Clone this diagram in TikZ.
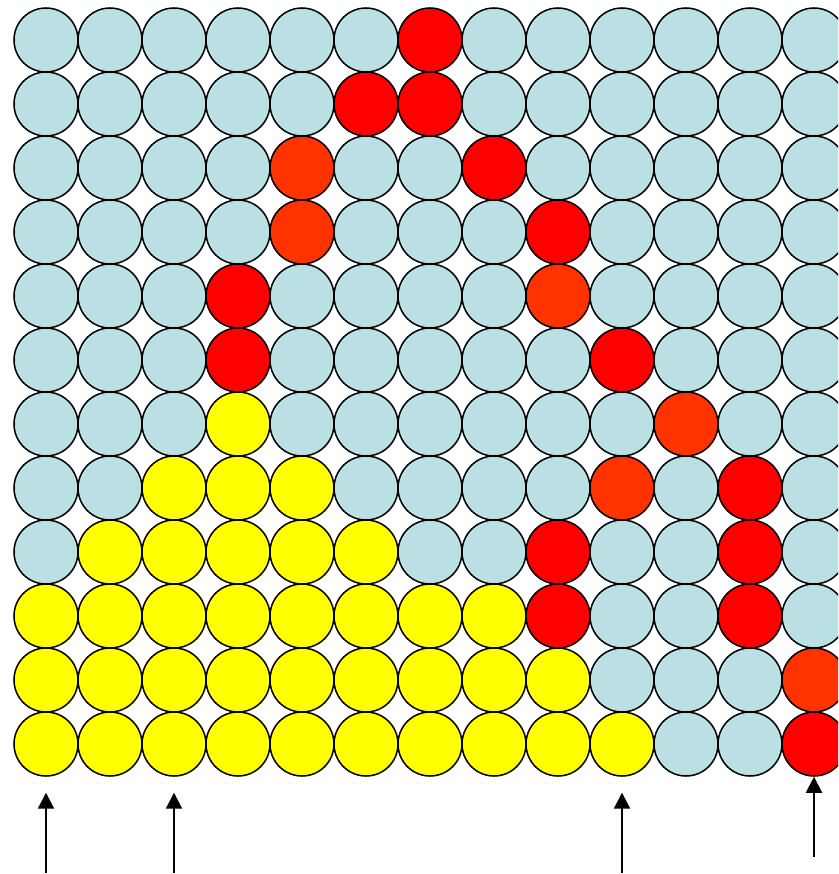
\documentclass[tikz,border=0pt]{standalone}
\usetikzlibrary{arrows.meta}
\definecolor{lb}{HTML}{BBE0E3}
\definecolor{rd}{HTML}{FF0000}
\definecolor{og}{HTML}{FF3300}
\definecolor{yl}{HTML}{FFFF00}
\tikzset{
  dot/.style={circle, draw=black, line width=1.3pt, inner sep=0pt, minimum size=1.92cm},
  upar/.style={-{Triangle[length=0.48cm, width=0.48cm]}, line width=1.7pt}
}
\begin{document}
\begin{tikzpicture}[x=0.03cm, y=-0.03cm]
    \useasboundingbox (0,0) rectangle (838,874);
    \clip (0,0) rectangle (838,874);
    % one list of colours per row, top to bottom
    \foreach \row [count=\r from 0] in {
        {lb,lb,lb,lb,lb,lb,rd,lb,lb,lb,lb,lb,lb},
        {lb,lb,lb,lb,lb,rd,rd,lb,lb,lb,lb,lb,lb},
        {lb,lb,lb,lb,og,lb,lb,rd,lb,lb,lb,lb,lb},
        {lb,lb,lb,lb,og,lb,lb,lb,rd,lb,lb,lb,lb},
        {lb,lb,lb,rd,lb,lb,lb,lb,og,lb,lb,lb,lb},
        {lb,lb,lb,rd,lb,lb,lb,lb,lb,rd,lb,lb,lb},
        {lb,lb,lb,yl,lb,lb,lb,lb,lb,lb,og,lb,lb},
        {lb,lb,yl,yl,yl,lb,lb,lb,lb,og,lb,rd,lb},
        {lb,yl,yl,yl,yl,yl,lb,lb,rd,lb,lb,rd,lb},
        {yl,yl,yl,yl,yl,yl,yl,yl,rd,lb,lb,rd,lb},
        {yl,yl,yl,yl,yl,yl,yl,yl,yl,lb,lb,lb,og},
        {yl,yl,yl,yl,yl,yl,yl,yl,yl,yl,lb,lb,rd}}
      \foreach \col [count=\k from 0] in \row
        \node[dot, fill=\col] (c-\r-\k) at (46+64*\k, 40+64*\r) {};
    % arrows below the grid
    \coordinate (a1) at (46,873);
    \coordinate (a2) at (174,873);
    \coordinate (a3) at (622,873);
    \coordinate (a4) at (814,857);
    \draw[upar] (a1) -- ([yshift=-13.6pt]c-11-0.south);
    \draw[upar] (a2) -- ([yshift=-13.6pt]c-11-2.south);
    \draw[upar] (a3) -- ([yshift=-13.6pt]c-11-9.south);
    \draw[upar] (a4) -- (c-11-12.south);
\end{tikzpicture}
\end{document}
